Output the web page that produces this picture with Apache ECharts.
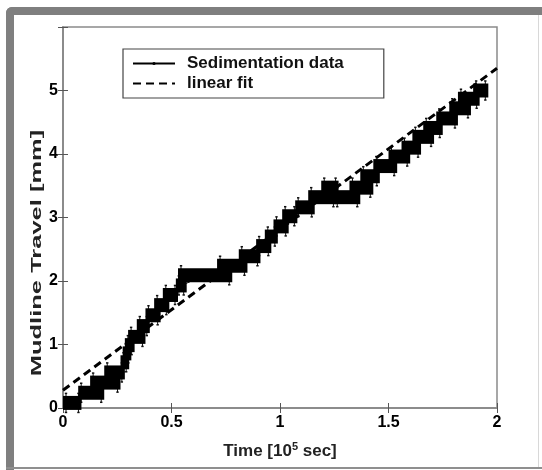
<!DOCTYPE html>
<html>
<head>
<meta charset="utf-8">
<script src="https://cdn.jsdelivr.net/npm/echarts@6/dist/echarts.min.js"></script>
<style>
html,body{margin:0;padding:0;background:#fff;}
#chart{width:542px;height:470px;}
</style>
</head>
<body>
<div id="chart"></div>
<script>
// ---- data (time in 1e5 s, travel in mm) ----
const timeStart = [0.00, 0.07, 0.125, 0.19, 0.265, 0.275, 0.285, 0.30, 0.34, 0.38, 0.42, 0.46, 0.52, 0.53, 0.71, 0.81, 0.89, 0.93, 0.97, 1.01, 1.07, 1.13, 1.19, 1.25, 1.32, 1.37, 1.43, 1.50, 1.56, 1.61, 1.66, 1.72, 1.78, 1.82, 1.89];
const timeEnd   = [0.085, 0.19, 0.265, 0.285, 0.305, 0.315, 0.33, 0.38, 0.40, 0.45, 0.49, 0.53, 0.57, 0.78, 0.85, 0.91, 0.96, 0.99, 1.04, 1.08, 1.16, 1.26, 1.27, 1.37, 1.43, 1.46, 1.54, 1.60, 1.65, 1.71, 1.75, 1.82, 1.88, 1.92, 1.96];
const travel    = [0.08, 0.24, 0.40, 0.56, 0.72, 0.86, 0.99, 1.12, 1.29, 1.46, 1.62, 1.78, 1.93, 2.09, 2.24, 2.39, 2.55, 2.70, 2.86, 3.02, 3.16, 3.32, 3.47, 3.32, 3.47, 3.65, 3.81, 3.96, 4.10, 4.27, 4.41, 4.56, 4.72, 4.87, 5.00];
const travelErr = [0.15, 0.15, 0.15, 0.15, 0.15, 0.15, 0.15, 0.15, 0.15, 0.15, 0.15, 0.15, 0.15, 0.15, 0.15, 0.15, 0.15, 0.15, 0.15, 0.15, 0.15, 0.15, 0.15, 0.15, 0.15, 0.15, 0.15, 0.15, 0.15, 0.15, 0.15, 0.15, 0.15, 0.15, 0.15];
const fitTime   = [0, 2];
const fitTravel = [0.28, 5.35];
const xTicks = [0, 0.5, 1, 1.5, 2];
const yTicks = [0, 1, 2, 3, 4, 5];

// ---- build ----
const FONT = '"Liberation Sans", Arial, Helvetica, sans-serif';
const blockData = timeStart.map((t, i) => [t, timeEnd[i], travel[i], travelErr[i]]);
const centerData = timeStart.map((t, i) => [(t + timeEnd[i]) / 2, travel[i]]);
const fitData = fitTime.map((t, i) => [t, fitTravel[i]]);

const chart = echarts.init(document.getElementById('chart'), null, {renderer: 'canvas'});

const axisLineStyle = {color: '#8a8a8a', width: 1.5};
const tickStyle = {color: '#555', width: 1};

const option = {
  animation: false,
  backgroundColor: '#fff',
  grid: {left: 63, right: 45, top: 27, bottom: 62, containLabel: false,
    show: true, borderColor: '#8a8a8a', borderWidth: 1.5, backgroundColor: 'transparent'},
  xAxis: [{
    type: 'value', min: xTicks[0], max: xTicks[xTicks.length - 1], interval: 0.5,
    position: 'bottom',
    axisLine: {show: true, lineStyle: axisLineStyle},
    axisTick: {show: true, inside: true, length: 5, lineStyle: tickStyle},
    splitLine: {show: false},
    axisLabel: {color: '#000', fontWeight: 'bold', fontSize: 16, fontFamily: FONT, margin: 7},
    name: 'Time [10{sup|5} sec]',
    nameLocation: 'middle', nameGap: 33,
    nameTextStyle: {color: '#222', fontWeight: 'bold', fontSize: 17, fontFamily: FONT,
      rich: {sup: {fontSize: 11, fontWeight: 'bold', fontFamily: FONT, color: '#222', padding: [0, 0, 10, 0]}}}
  }, {
    type: 'value', min: xTicks[0], max: xTicks[xTicks.length - 1], interval: 0.5,
    position: 'top',
    axisLine: {show: true, lineStyle: axisLineStyle},
    axisTick: {show: true, inside: true, length: 5, lineStyle: tickStyle},
    splitLine: {show: false},
    axisLabel: {show: false}
  }],
  yAxis: [{
    type: 'value', min: 0, max: 6, interval: 1,
    position: 'left',
    axisLine: {show: true, lineStyle: axisLineStyle},
    axisTick: {show: true, inside: true, length: 5, lineStyle: tickStyle},
    splitLine: {show: false},
    axisLabel: {color: '#000', fontWeight: 'bold', fontSize: 16, fontFamily: FONT, margin: 5,
      formatter: v => (yTicks.indexOf(v) >= 0 ? String(v) : '')}
  }, {
    type: 'value', min: 0, max: 6, interval: 1,
    position: 'right',
    axisLine: {show: true, lineStyle: axisLineStyle},
    axisTick: {show: true, inside: true, length: 5, lineStyle: tickStyle},
    splitLine: {show: false},
    axisLabel: {show: false}
  }],
  legend: {
    orient: 'vertical', left: 123, top: 49,
    itemWidth: 42, itemHeight: 4, itemGap: 3,
    padding: [6, 40, 6, 9],
    borderColor: '#444', borderWidth: 1.2,
    backgroundColor: '#fff',
    textStyle: {color: '#111', fontWeight: 'bold', fontSize: 17, fontFamily: FONT, padding: [0, 0, 0, 7]},
    data: [
      {name: 'Sedimentation data'},
      {name: 'linear fit', itemStyle: {color: 'rgba(0,0,0,0)', borderWidth: 0}}
    ]
  },
  graphic: [
    {type: 'rect', silent: true, z: 100, shape: {x: 6, y: 7, width: 600, height: 8, r: [6, 0, 0, 0]}, style: {fill: '#7f7f7f'}},
    {type: 'rect', silent: true, z: 100, shape: {x: 6, y: 7, width: 8, height: 470, r: [6, 0, 0, 0]}, style: {fill: '#7f7f7f'}},
    {type: 'rect', silent: true, z: 100, shape: {x: 6, y: 467, width: 540, height: 2}, style: {fill: '#8f8f8f'}},
    {type: 'rect', silent: true, z: 100, shape: {x: 538, y: 15, width: 1, height: 452}, style: {fill: '#d8d8d8'}},
    {type: 'text', silent: true, z: 100, x: 37, y: 253, rotation: Math.PI / 2, scaleX: 1.7,
      style: {text: 'Mudline Travel [mm]', fill: '#222', font: 'bold 15px ' + FONT, align: 'center', verticalAlign: 'middle'}}
  ],
  series: [
    {
      name: 'Sedimentation data', type: 'line', data: centerData,
      xAxisIndex: 0, yAxisIndex: 0,
      symbol: 'circle', symbolSize: 3, showSymbol: true,
      lineStyle: {color: '#000', width: 1},
      itemStyle: {color: '#000'},
      z: 2
    },
    {
      name: 'errbars', type: 'custom', data: blockData,
      xAxisIndex: 0, yAxisIndex: 0,
      encode: {x: [0, 1], y: 2},
      z: 3,
      renderItem: function (params, api) {
        const x0 = api.value(0), x1 = api.value(1), y = api.value(2), e = api.value(3);
        const a = api.coord([x0, y]), b = api.coord([x1, y]);
        const top = api.coord([x0, y + e])[1], bot = api.coord([x0, y - e])[1];
        const xs = [a[0] + 3, b[0] - 3];
        const children = [];
        xs.forEach(function (xx) {
          children.push({type: 'line', shape: {x1: xx, y1: top, x2: xx, y2: bot}, style: {stroke: '#111', lineWidth: 1}});
          children.push({type: 'line', shape: {x1: xx - 1.2, y1: top, x2: xx + 1.2, y2: top}, style: {stroke: '#111', lineWidth: 1.5}});
          children.push({type: 'line', shape: {x1: xx - 1.2, y1: bot, x2: xx + 1.2, y2: bot}, style: {stroke: '#111', lineWidth: 1.5}});
        });
        return {type: 'group', children: children};
      }
    },
    {
      name: 'blocks', type: 'custom', data: blockData,
      xAxisIndex: 0, yAxisIndex: 0,
      encode: {x: [0, 1], y: 2},
      z: 4,
      renderItem: function (params, api) {
        const x0 = api.value(0), x1 = api.value(1), y = api.value(2);
        const a = api.coord([x0, y]), b = api.coord([x1, y]);
        return {type: 'rect', shape: {x: a[0], y: a[1] - 7, width: b[0] - a[0], height: 14}, style: {fill: '#000'}};
      }
    },
    {
      name: 'linear fit', type: 'line', data: fitData,
      xAxisIndex: 0, yAxisIndex: 0,
      symbol: 'none', showSymbol: false,
      lineStyle: {color: '#000', width: 3, type: [8, 5]},
      itemStyle: {color: '#000'},
      z: 5
    },
    {
      name: 'mirror', type: 'line', data: [],
      xAxisIndex: 1, yAxisIndex: 1, silent: true
    }
  ]
};
chart.setOption(option);
</script>
</body>
</html>
